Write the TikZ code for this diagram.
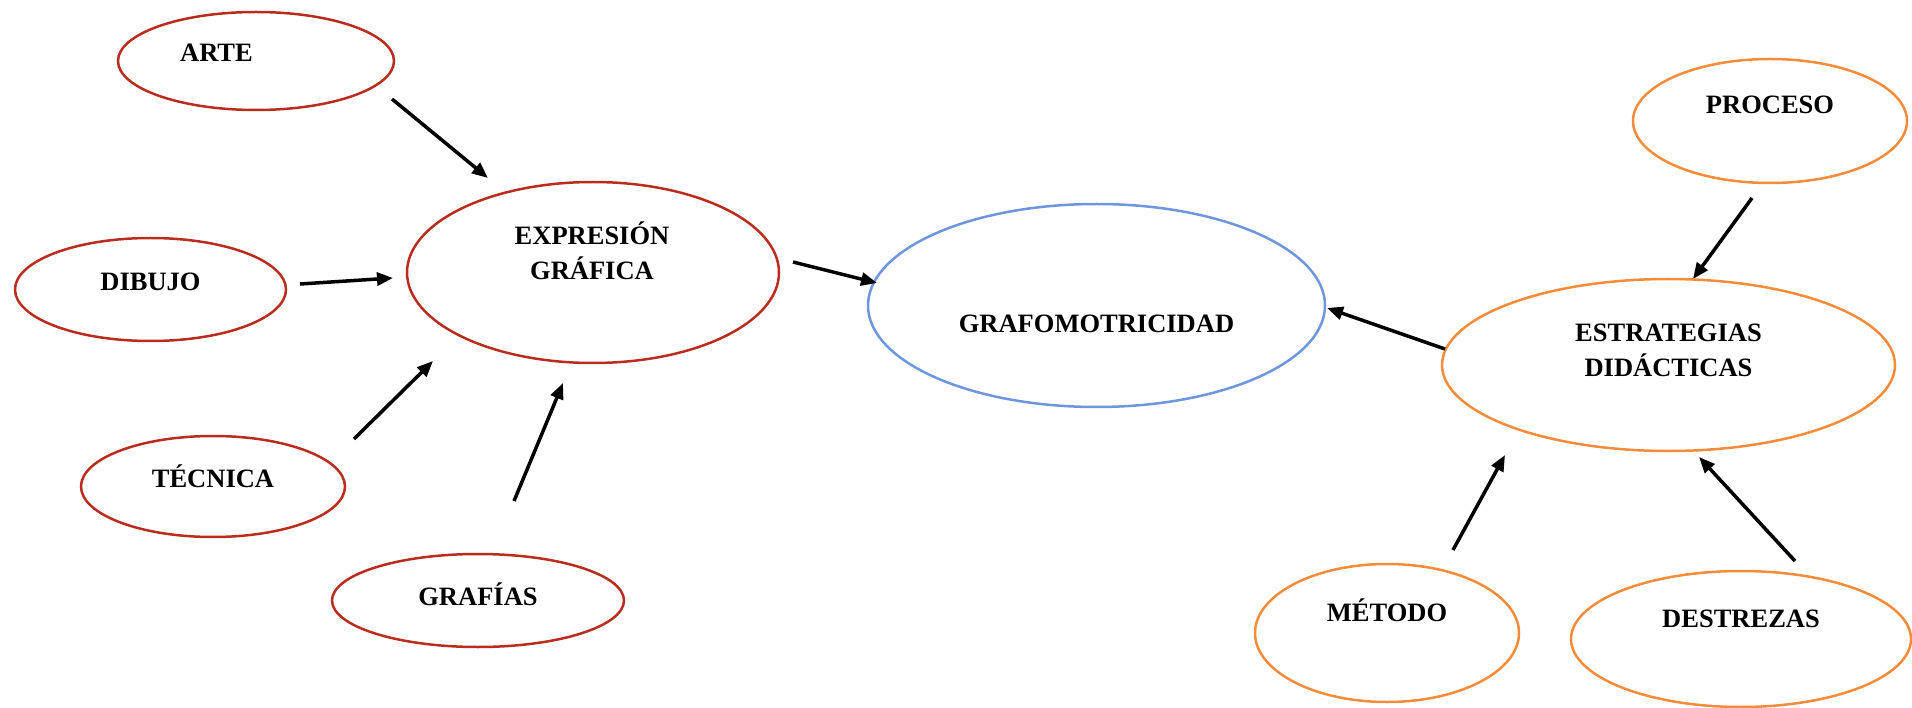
\documentclass[tikz,border=0pt]{standalone}
\usepackage{fontspec}
\setmainfont{Liberation Serif}
\usetikzlibrary{shapes.geometric, arrows.meta, positioning}
\definecolor{brick}{RGB}{185,45,30}
\definecolor{cornflower}{RGB}{110,150,220}
\definecolor{tangerine}{RGB}{245,140,60}

\begin{document}
\begin{tikzpicture}[
    x=1pt, y=-1pt,
    oval/.style={ellipse, draw, line width=2.5pt, inner sep=0pt},
    redoval/.style={oval, draw=brick},
    blueoval/.style={oval, draw=cornflower},
    orangeoval/.style={oval, draw=tangerine},
    txt/.style={font=\fontsize{26.5}{35}\selectfont\bfseries, inner sep=0pt, text height=17.5pt, text depth=0pt},
    txttwo/.style={font=\fontsize{26.5}{35}\selectfont\bfseries, inner sep=0pt, align=center},
    arrow/.style={-{Triangle[length=16pt,width=13pt]}, line width=3.5pt}
]
\useasboundingbox (0,0) rectangle (1912,708);

% Left group
\node[redoval, minimum width=276pt, minimum height=98pt, label={[txt, xshift=-39.5pt, yshift=8.5pt]center:ARTE}] (arte) at (256,61) {};
\node[redoval, minimum width=271pt, minimum height=103pt, label={[txt, yshift=8pt]center:DIBUJO}] (dibujo) at (150.5,289.5) {};
\node[redoval, minimum width=264pt, minimum height=101pt, label={[txt, yshift=8pt]center:TÉCNICA}] (tecnica) at (213,486.5) {};
\node[redoval, minimum width=292pt, minimum height=93pt, label={[txt, yshift=4pt]center:GRAFÍAS}] (grafias) at (478,600.5) {};
\node[redoval, minimum width=372pt, minimum height=181pt, label={[txttwo, xshift=-1pt, yshift=22pt]center:EXPRESIÓN\\GRÁFICA}] (expresion) at (593,272.5) {};

% Centre
\node[blueoval, minimum width=457pt, minimum height=203pt, label={[txt, yshift=-18.5pt]center:GRAFOMOTRICIDAD}] (grafo) at (1096.5,305.5) {};

% Right group
\node[orangeoval, minimum width=453pt, minimum height=172pt, label={[txttwo, yshift=15pt]center:ESTRATEGIAS\\DIDÁCTICAS}] (estrategias) at (1668.5,365) {};
\node[orangeoval, minimum width=274pt, minimum height=124pt, label={[txt, yshift=16pt]center:PROCESO}] (proceso) at (1770,121) {};
\node[orangeoval, minimum width=264pt, minimum height=138pt, label={[txt, yshift=20.5pt]center:MÉTODO}] (metodo) at (1387,633) {};
\node[orangeoval, minimum width=340pt, minimum height=136pt, label={[txt, yshift=20pt]center:DESTREZAS}] (destrezas) at (1741,639) {};

% Arrow ends
\coordinate (arte-out) at (392,99);
\coordinate (arte-in) at (488,178);
\coordinate (dibujo-out) at (300,284);
\coordinate (dibujo-in) at (393,278);
\coordinate (tecnica-out) at (354,439);
\coordinate (tecnica-in) at (433,361);
\coordinate (grafias-out) at (514,501);
\coordinate (grafias-in) at (563,383);
\coordinate (expresion-out) at (793,262);
\coordinate (expresion-in) at (877,283);
\coordinate (estrategias-out) at (1445,349);
\coordinate (estrategias-in) at (1327,308);
\coordinate (proceso-out) at (1752,198);
\coordinate (proceso-in) at (1693,279);
\coordinate (metodo-out) at (1453,550);
\coordinate (metodo-in) at (1505,455);
\coordinate (destrezas-out) at (1795,561);
\coordinate (destrezas-in) at (1699,457);

% Arrows
\draw[arrow] (arte-out) -- (arte-in);
\draw[arrow] (dibujo-out) -- (dibujo-in);
\draw[arrow] (tecnica-out) -- (tecnica-in);
\draw[arrow] (grafias-out) -- (grafias-in);
\draw[arrow] (expresion-out) -- (expresion-in);
\draw[arrow] (estrategias-out) -- (estrategias-in);
\draw[arrow] (proceso-out) -- (proceso-in);
\draw[arrow] (metodo-out) -- (metodo-in);
\draw[arrow] (destrezas-out) -- (destrezas-in);

\end{tikzpicture}
\end{document}
